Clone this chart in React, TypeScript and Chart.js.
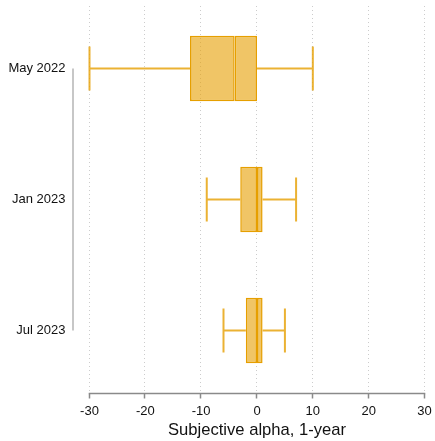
import React, { useEffect, useRef } from "react";
import { Chart, registerables } from "chart.js";

Chart.register(...registerables);

const categories = ["May 2022", "Jan 2023", "Jul 2023"];
const whiskerLow = [-30, -9, -6];
const quartile1 = [-12, -3, -2];
const medians = [-4, 0, 0];
const quartile3 = [0, 1, 1];
const whiskerHigh = [10, 7, 5];
const xTickValues = [-30, -20, -10, 0, 10, 20, 30];

const ORANGE = "#E69F00";
const BOX_FILL = "rgba(230,159,0,0.6)";
const WHISKER = "rgba(230,159,0,0.8)";
const FONT = "'Liberation Sans', Arial, Helvetica, sans-serif";

const decorPlugin = {
  id: "decor",
  beforeDatasetsDraw(chart: any) {
    const { ctx, chartArea, scales } = chart;
    const xs = scales.x;
    const ys = scales.y;
    ctx.save();
    // dotted grid
    ctx.strokeStyle = "#cccccc";
    ctx.lineWidth = 1;
    ctx.setLineDash([1, 3]);
    xTickValues.forEach((v) => {
      const px = Math.round(xs.getPixelForValue(v)) - 0.5;
      ctx.beginPath();
      ctx.moveTo(px, chartArea.top + 3);
      ctx.lineTo(px, chartArea.bottom - 3);
      ctx.stroke();
    });
    ctx.setLineDash([]);
    // x axis line and ticks
    const axisY = chartArea.bottom - 2.5;
    ctx.strokeStyle = "#8a8a8a";
    ctx.lineWidth = 1.5;
    ctx.beginPath();
    ctx.moveTo(xs.getPixelForValue(xTickValues[0]) - 0.75, axisY);
    ctx.lineTo(xs.getPixelForValue(xTickValues[xTickValues.length - 1]) + 0.75, axisY);
    ctx.stroke();
    xTickValues.forEach((v) => {
      const px = Math.round(xs.getPixelForValue(v)) - 0.5;
      ctx.beginPath();
      ctx.moveTo(px, axisY);
      ctx.lineTo(px, axisY + 5);
      ctx.stroke();
    });
    // y axis line spanning first to last category
    ctx.strokeStyle = "#b5b5b5";
    ctx.lineWidth = 1.5;
    const yx = chartArea.left - 16.5;
    ctx.beginPath();
    ctx.moveTo(yx, ys.getPixelForValue(0));
    ctx.lineTo(yx, ys.getPixelForValue(categories.length - 1));
    ctx.stroke();
    // whiskers
    const band = ys.getPixelForValue(1) - ys.getPixelForValue(0);
    const cap = band * 0.168;
    ctx.strokeStyle = WHISKER;
    ctx.lineWidth = 2;
    categories.forEach((_, i) => {
      const py = ys.getPixelForValue(i);
      const xl = xs.getPixelForValue(whiskerLow[i]);
      const x1 = xs.getPixelForValue(quartile1[i]);
      const x3 = xs.getPixelForValue(quartile3[i]);
      const xh = xs.getPixelForValue(whiskerHigh[i]);
      ctx.beginPath();
      ctx.moveTo(xl, py);
      ctx.lineTo(x1, py);
      ctx.moveTo(x3, py);
      ctx.lineTo(xh, py);
      ctx.moveTo(xl, py - cap);
      ctx.lineTo(xl, py + cap);
      ctx.moveTo(xh, py - cap);
      ctx.lineTo(xh, py + cap);
      ctx.stroke();
    });
    ctx.restore();
  },
};

export default function App() {
  const ref = useRef<HTMLCanvasElement | null>(null);
  useEffect(() => {
    document.body.style.margin = "0";
    if (!ref.current) return;
    const chart = new Chart(ref.current, {
      type: "bar",
      data: {
        labels: categories,
        datasets: [
          {
            data: categories.map((_, i) => [quartile1[i], medians[i]]),
            backgroundColor: BOX_FILL,
            borderColor: ORANGE,
            borderWidth: 1.5,
            borderSkipped: false,
            grouped: false,
            barPercentage: 0.5,
            categoryPercentage: 1,
          } as any,
          {
            data: categories.map((_, i) => [medians[i], quartile3[i]]),
            backgroundColor: BOX_FILL,
            borderColor: ORANGE,
            borderWidth: 1.5,
            borderSkipped: false,
            grouped: false,
            barPercentage: 0.5,
            categoryPercentage: 1,
          } as any,
        ],
      },
      options: {
        indexAxis: "y",
        responsive: false,
        animation: false,
        layout: { padding: { top: 3, right: 10.5, left: 0, bottom: 0 } },
        plugins: {
          legend: { display: false },
          tooltip: { enabled: false },
        },
        scales: {
          x: {
            type: "linear",
            min: -30,
            max: 30,
            afterBuildTicks: (scale: any) => {
              scale.ticks = xTickValues.map((v) => ({ value: v }));
            },
            afterFit: (scale: any) => {
              scale.height = 45;
              scale.paddingLeft = 0;
              scale.paddingRight = 0;
            },
            grid: { display: false, drawTicks: false },
            border: { display: false },
            ticks: {
              padding: 7.5,
              color: "#111111",
              font: { family: FONT, size: 13 },
            },
            title: {
              display: true,
              text: "Subjective alpha, 1-year",
              color: "#111111",
              font: { family: FONT, size: 16.6 },
              padding: { top: 0, bottom: 1 },
            },
          },
          y: {
            type: "category",
            afterFit: (scale: any) => {
              scale.width = 89.5;
              scale.paddingTop = 0;
              scale.paddingBottom = 0;
            },
            grid: { display: false, drawTicks: false },
            border: { display: false },
            ticks: {
              padding: 24,
              color: "#111111",
              font: { family: FONT, size: 13 },
            },
          },
        },
      },
      plugins: [decorPlugin],
    } as any);
    return () => chart.destroy();
  }, []);
  return (
    <div style={{ width: 435, height: 441 }}>
      <canvas ref={ref} width={435} height={441} />
    </div>
  );
}
